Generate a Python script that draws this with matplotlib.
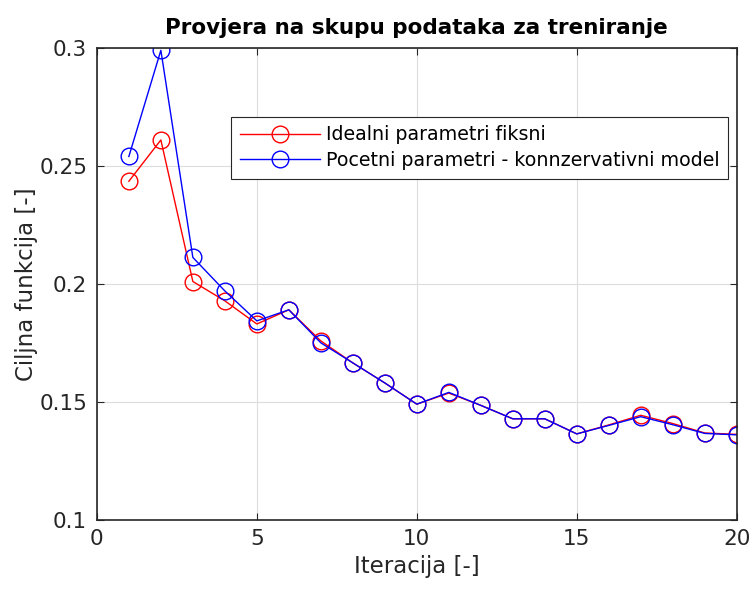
import numpy as np
import matplotlib.pyplot as plt

plt.rcParams['font.family'] = ['DejaVu Sans']

iteracija = np.arange(1, 21)
idealni = [0.2435, 0.261, 0.201, 0.1928, 0.183, 0.189, 0.1758, 0.1665, 0.158, 0.149,
           0.1537, 0.1485, 0.1428, 0.1428, 0.1364, 0.1402, 0.1443, 0.1408, 0.1368, 0.1362]
pocetni = [0.254, 0.299, 0.2112, 0.197, 0.1843, 0.189, 0.175, 0.1665, 0.158, 0.149,
           0.154, 0.1485, 0.1428, 0.1428, 0.1364, 0.14, 0.1437, 0.1403, 0.1366, 0.136]

fig = plt.figure(figsize=(7.51, 5.92), dpi=100)
ax = fig.add_axes([0.129, 0.122, 0.852, 0.797])

ax.plot(iteracija, idealni, color='red', marker='o', markerfacecolor='none',
        markersize=12, linewidth=1, label='Idealni parametri fiksni')
ax.plot(iteracija, pocetni, color='blue', marker='o', markerfacecolor='none',
        markersize=12, linewidth=1, label='Pocetni parametri - konnzervativni model')

ax.set_xlim(0, 20)
ax.set_ylim(0.1, 0.3)
ax.set_xticks([0, 5, 10, 15, 20])
ax.set_yticks([0.1, 0.15, 0.2, 0.25, 0.3])
ax.set_yticklabels(['0.1', '0.15', '0.2', '0.25', '0.3'])
ax.grid(True, color='#dcdcdc', linewidth=0.8)
ax.set_axisbelow(True)
ax.tick_params(direction='in', top=True, right=True, labelsize=15.5, colors='#262626',
               length=5, width=0.8, pad=7)
for s in ax.spines.values():
    s.set_color('#262626')
    s.set_linewidth(1.2)

ax.set_xlabel('Iteracija [-]', fontsize=16.5, color='#262626', labelpad=4)
ax.set_ylabel('Ciljna funkcija [-]', fontsize=16.5, color='#262626', labelpad=1)
ax.set_title('Provjera na skupu podataka za treniranje', fontsize=15.5, fontweight='bold',
             pad=10)

leg = ax.legend(loc='upper right', bbox_to_anchor=(0.987, 0.854), borderaxespad=0,
                fontsize=13.7, fancybox=False, framealpha=1, edgecolor='#262626',
                handlelength=4.2, borderpad=0.45, labelspacing=0.35, handletextpad=0.35)
leg.get_frame().set_linewidth(0.8)

fig.savefig('out.png', dpi=100)
